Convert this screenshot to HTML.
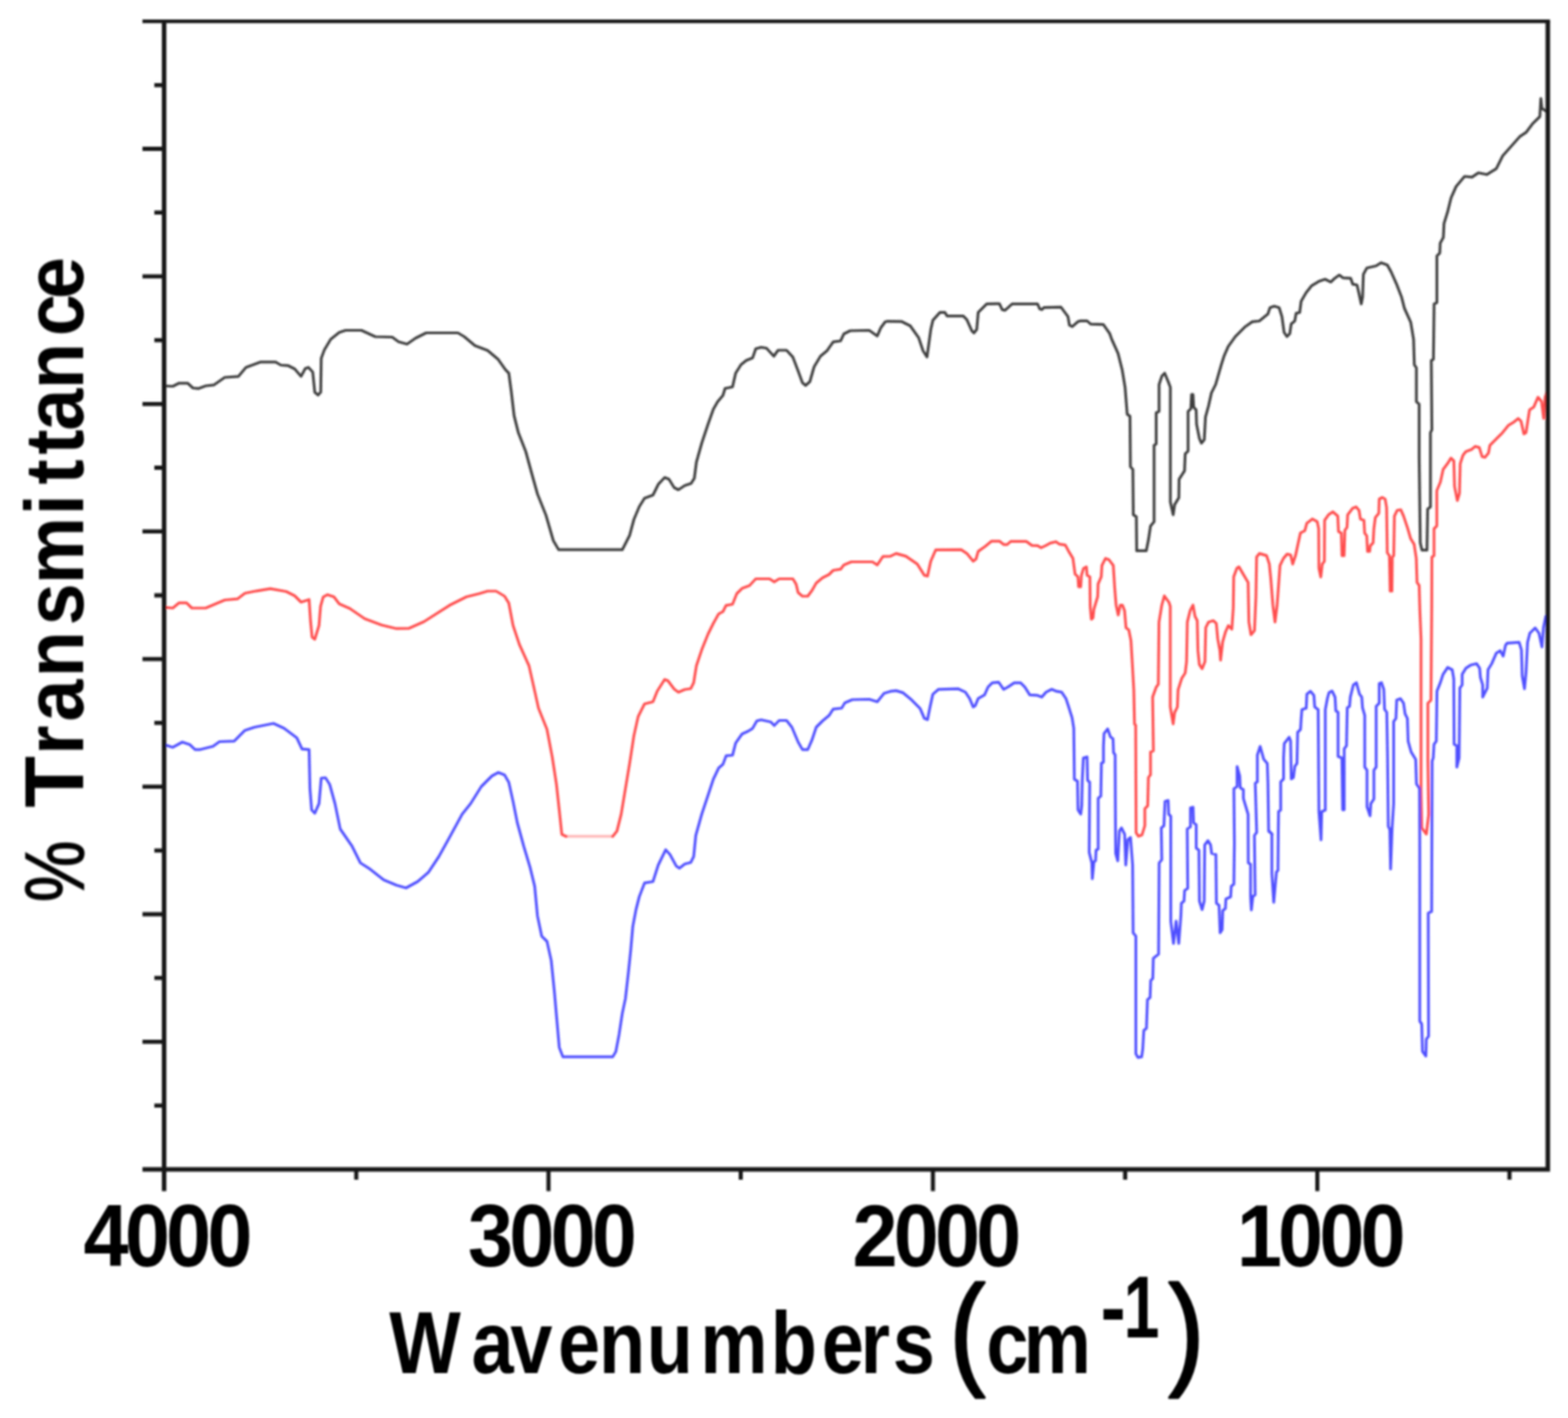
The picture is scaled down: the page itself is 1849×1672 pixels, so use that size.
<!DOCTYPE html>
<html lang="en"><head><meta charset="utf-8"><title>FTIR spectra</title>
<style>html,body{margin:0;padding:0;background:#fff}body{width:1849px;height:1672px;overflow:hidden}svg{display:block}</style></head>
<body>
<svg width="1849" height="1672" viewBox="0 0 1849 1672">
<defs><filter id="soft" x="-2%" y="-2%" width="104%" height="104%"><feGaussianBlur stdDeviation="1.0"/></filter></defs>
<rect width="100%" height="100%" fill="#fff"/>
<g filter="url(#soft)">
<g fill="none" stroke-linejoin="round" stroke-linecap="round" stroke-width="3.2">
<path stroke="#3c3c3c" d="M193.8 455L203.8 455.5L211.2 451.8L221.2 451.8L227.5 457.5L233.8 458.2L242.5 455L252.5 453.8L265 445L281.2 443.8L290 433.2L307.5 426.8L325 426.8L331.2 430.5L340 431.2L347.5 435L355 443.8L360 434.5L363.8 433.2L368.8 438.8L371.2 462.5L375 465.8L378.2 462.5L378.8 422.5L382.5 412.5L390 400L400 392L407.5 389.5L426.2 389.5L442.5 397L462.5 397.5L470 403L480 405.8L490 398.8L502.5 392.5L540 392.5L547.5 397L560 407.5L575 413.2L587.5 423.8L596.2 436.2L600 440L603 462.5L606.2 490L611.2 510L620 532.5L627.5 560L633.8 582.5L643.8 607.5L652.5 637.5L658.8 648.2L733.8 648.2L742.5 631.2L747.5 612.5L753.8 597.5L760 587.5L770 583.8L776.2 571.2L783.8 563L788.8 565L795 575L800 577.5L807.5 572.5L815 570L818.8 563.8L821.2 545L827.5 522.5L835 500L841.2 482.5L846.2 473.8L852.5 466.2L855 458L863.8 456.2L867.5 440L873.8 430L880 425L887.5 422L891.2 411.2L897.5 409.5L903.8 410.5L912.5 420L917.5 413L927.5 413L935 421.2L941.2 437.5L946.2 451.2L950 454.5L955 450L960 432.5L967.5 420L975 413.8L982.5 403.2L991.2 402L995 393.8L1002.5 390L1025 389.5L1034.5 396.2L1038.8 386.2L1043.8 379.5L1046.7 378.8L1063.4 379.2L1073.4 384.3L1083.4 398.4L1088.4 413.5L1093.1 421L1095.1 406.8L1097.6 388.4L1100.1 377.6L1108.4 368.4L1114.2 368.4L1116.8 372.6L1135.9 372.6L1140.1 376.8L1146 390.1L1148.5 392.6L1151.8 388.4L1153.5 368.4L1163.5 358.4L1178.5 358.1L1181.8 365.1L1185.2 365.9L1193.5 358.4L1223.5 358.4L1226 364.2L1228.5 365.1L1231 362.6L1251.1 362.1L1259.4 373.4L1261.1 383.4L1264.4 385.1L1271.1 379.2L1273.6 378.4L1281.9 378.4L1286.1 382.1L1301.1 382.6L1308.6 393.4L1310.9 400L1318.4 416.7L1323.4 436.7L1326.7 456.7L1329.2 488.4L1332.5 490.9L1333 550.2L1335.9 553.5L1336.4 606.9L1340 609.4L1340.4 649.4L1351.7 649.4L1354.2 636.9L1356.7 620.2L1360.9 615.2L1360.9 525.1L1363.4 523.5L1363.4 486.8L1366.8 485.1L1366.8 453.4L1370.1 443.4L1373.4 440L1377.6 450.1L1380.1 456.7L1380.1 591.9L1383.4 606.9L1385.1 595.2L1390.1 586.9L1390.4 565.2L1396.8 555.2L1397.6 535.1L1401 531.8L1401 485.1L1404.3 481.8L1405.1 465.1L1406.8 465.1L1407.6 480.1L1410.5 483.4L1411 500.1L1414.3 516.8L1416.8 522.6L1420.1 518.5L1421.5 491.8L1425.2 478.4L1428.5 463.4L1433.5 453.4L1440.2 430L1443.3 420.2L1448.3 408.6L1456.7 396.9L1468.4 385.2L1476.7 379.4L1485 378.5L1495.1 370.2L1497.6 362.7L1502.6 361L1508.4 362.7L1511.7 373.5L1514.2 391.9L1517.6 396.9L1520.9 393.5L1522.6 381.9L1526.8 378.5L1528.4 369.4L1532.6 368.5L1534.3 355.2L1540.1 345.2L1546.8 336.8L1555.1 331.8L1562.6 329.3L1569.3 332.6L1573.5 328.5L1579.3 324.3L1583.5 327.6L1592.7 328.1L1595.2 335.1L1600.2 336L1602.7 346.8L1605.2 358.5L1606.8 350.2L1607.7 323.5L1611.8 316L1622.7 313.5L1628.5 309.8L1636 312.6L1640.2 320.1L1646.9 335.1L1652.7 350.2L1656.1 363.5L1663.6 380.2L1666.9 400.2L1667.8 430.2L1670.2 433.6L1670.2 473.6L1673.5 476.7L1673.5 540.1L1674.8 640.2L1676.8 648.6L1682.7 648.6L1683.5 600.2L1686.8 597.7L1686.8 510.1L1688.5 506.7L1687.8 425.2L1690.3 423.6L1691.1 358.5L1694.4 356.8L1694.4 301.8L1697.8 298.4L1698.3 286.8L1702 280.1L1702.8 263.4L1707 250.1L1711.1 233.4L1717 220L1727 208L1735.8 208.8L1743.2 203.8L1753.2 205.8L1764.5 198.8L1772 183.8L1782 172.5L1792 161.2L1799.5 156.2L1807 146.2L1815.8 137.5L1817 116.2L1818.2 127.5L1823.2 131.2"/>
<path stroke="#ff4e4e" d="M193.8 716.2L203.8 717L211.2 710.8L220 710.8L226.2 717L242.5 717L265 707.5L280 706.2L288.8 699.5L302.5 696.8L318.8 694.2L337.5 697.5L347.5 702.5L355 710L364.5 707L366.2 732.5L368 751.2L371.2 753.8L376.2 737.5L378 715L381.2 703.8L386.2 701.2L393.8 703.8L400 712L412.5 717.5L430 729.5L450 737L467.5 741.2L482.5 740.8L500 733L530 713.8L550 703.8L565 700L575 697L585 697L595 703L600 711.2L605 737.5L612.5 760L623.8 785L630 812.5L635 835L645 860L651.2 892.5L656.2 925L660 960L662.5 983.8L667.5 986.2"/>
<path stroke="#ff4e4e" stroke-opacity="0.4" d="M667.5 986.2L722.5 986.2"/>
<path stroke="#ff4e4e" d="M722.5 986.2L727.5 980L732.5 960L737.5 930L742.5 900L747.5 867.5L752.5 845L760 830L770 827.5L775 815L783.8 801.2L787.5 802.5L795 812.5L800 816.2L807.5 813L814.5 812L818 805L821.2 785L827.5 766.2L835 747.5L841.2 735L847.5 723.8L852.5 721.2L856.2 713.8L863.8 712.5L868.8 700L875 693.8L883.8 690.5L891.2 682.5L907.5 682.5L913 686.2L918.8 682.5L935 682.5L938.8 688.8L941.2 698.8L946.2 703L952.5 703L957.5 696.2L962.5 687.5L970 681.2L977.5 677.5L982.5 672.5L991.2 671.2L995 666.2L1003.8 662.5L1028.8 662.5L1034.5 666.2L1041.2 656.2L1050 655.9L1056.7 652.6L1068.3 655.9L1081.7 665.1L1090 678.4L1093.7 679.3L1097.5 661.8L1103.4 648.4L1133.4 648.1L1140.1 652.6L1147.6 661.8L1150.9 659.2L1153.5 650.1L1161.8 644.2L1169.3 638.1L1178.5 638.1L1183.5 642.1L1187.7 642.1L1191.8 638.4L1210.2 638.4L1216.8 643.1L1223.5 643.4L1227.7 645.9L1233.5 643.1L1238.5 640.4L1245.2 638.7L1249.4 641.7L1256.1 642.6L1260.2 650.1L1265.2 658.4L1267.7 676.8L1271.1 680.1L1271.9 691.8L1274.4 691.8L1275.2 678.4L1277.8 670.1L1281.1 668.4L1281.9 678.4L1285.2 680.1L1285.6 715.1L1286.9 730.2L1288.9 728.5L1289.9 718.5L1294.4 703.5L1294.9 688.5L1298.6 680.1L1299.4 666.8L1303.6 658.4L1307.8 660.1L1312.8 666.8L1314.5 693.5L1316.1 713.5L1318.6 725.2L1321.1 713.5L1323.6 713.5L1326.1 720.1L1327.8 740.2L1331.1 742.7L1333.6 755.2L1335.3 783.5L1337 813.6L1337.8 853.6L1339.2 855.1L1339.7 981.9L1342.5 986.1L1346.7 984.4L1350 973.6L1350 953.6L1353.4 950.2L1354.2 916.9L1356.7 913.5L1356.7 886.8L1360.1 885.2L1359.2 821.9L1363.4 810.2L1365.9 806.9L1366.7 733.5L1370 713.5L1373 702.6L1378.4 710.1L1380 715.1L1380 833.6L1383.4 853.6L1385.1 840.3L1388.4 833.6L1389.2 813.6L1393.4 800.2L1397.6 793.5L1399.2 780.2L1400.1 733.5L1403.4 720.1L1406.8 713.5L1409.2 726.8L1411.8 731.8L1412.6 766.9L1414.3 783.5L1417.6 788.5L1420.9 780.2L1421.8 740.1L1425.1 733.5L1430.9 731.8L1434.3 735.1L1436 753.5L1438.5 766.9L1439.3 778.5L1441.8 756.8L1445.1 745.2L1448.5 737.6L1452.6 741.8L1454.3 716.8L1454.8 680.1L1458.5 670.1L1461 668.4L1466.8 678.4L1471.8 686.8L1472.7 733.5L1475.2 748.5L1479.3 743.5L1481 703.5L1481.8 656.7L1485.2 652.6L1493.5 655.1L1496.8 665.1L1498.5 681.8L1501 713.5L1503.5 733.5L1506 713.5L1507.7 690.1L1509.4 666.7L1513.5 658.4L1517.7 653.4L1521.9 654.2L1524.4 665.1L1527.7 655.1L1530.2 643.4L1533.5 628.4L1538.6 625.9L1541.1 616.7L1543.3 615.2L1547.5 611.9L1553.3 615.2L1555 623.5L1555.3 670.2L1557.5 680.3L1559.2 665.2L1561.7 661.9L1562 613.5L1566.7 606.9L1571.7 603.5L1577.5 608.5L1578.4 626.9L1581.7 628.5L1582.5 655.2L1585 655.2L1585.9 625.2L1588.4 621.9L1589.2 606.9L1595.1 599.3L1599.2 597.7L1602.6 601.8L1604.2 611.9L1608.4 613.5L1609.2 628.5L1611.7 631.9L1612.6 650.2L1615.1 650.2L1615.9 643.5L1619.2 640.2L1620.1 623.5L1621.8 610.2L1625.9 605.2L1626.4 588.5L1630.1 586.5L1633.4 588.5L1635.1 598.5L1635.9 651.9L1638.4 655.2L1639.3 697L1641.4 697L1641.8 656.9L1643.5 655.2L1644.3 608.5L1647.6 601.8L1651.8 601L1655.1 608.5L1660.1 623.5L1663.5 635.2L1667.6 641.9L1670.1 658.6L1671 686.9L1673.5 690.3L1674.3 719L1675.7 753.8L1675.7 933.2L1676.6 976.3L1682 983.5L1684.7 960.1L1683.8 897.3L1683.8 829.2L1687.4 825.6L1688.3 717.9L1688.5 656.9L1691 655.2L1691 623.5L1694.3 620.2L1694.3 578.5L1698.5 568.5L1701.8 553.5L1706.8 546.8L1711 540.1L1714.4 543.5L1715.2 573.5L1718.5 590.2L1721 581.8L1721.9 546.8L1725.2 536.8L1728.5 532.6L1735.2 530.1L1739.4 526.4L1744.4 527.6L1747.7 538.4L1751.1 539.3L1755.2 534.3L1756.9 525.1L1763.6 518.4L1771.9 510.1L1778.6 501.7L1785.3 497.6L1790.3 493.4L1793.6 496.7L1797 511.7L1799.5 510.1L1803.6 483.4L1808.6 480L1813.6 468.4L1817.8 473.4L1820.3 493.4L1822 468.4L1824.5 461.7"/>
<path stroke="#5050ff" d="M193.8 878L203.8 881.2L215 875L223.8 878L230 883.8L236.2 883.8L251.2 880L258.8 874.5L276.2 873.8L288.8 861.2L300 857.5L315 854.5L322.5 853L335 858.8L350 870L356.2 883.2L364.5 883.8L365.5 930L367.5 955L371.2 958.8L376.2 947.5L378.8 917.5L383.8 917L388.8 925L395 947.5L401.2 977.5L415 997.5L425 1017.5L435 1023.8L452.5 1037.5L467.5 1043.8L478.8 1047L492.5 1039.5L505 1028.8L517.5 1010L530 987.5L545 960L555 947.5L567.5 927.5L580 915L587.5 910.8L595 913.8L600 922.5L605 945L610 970L617.5 997.5L625 1022.5L630.5 1045L633.8 1080L638.8 1103.8L645 1110L650 1132.5L653.8 1170L656.2 1197.5L659.5 1235L663.8 1246.2L722.5 1246.2L726.2 1240L730 1220L733.8 1195L737.5 1177.5L741.2 1145L743.8 1120L746.2 1092.5L750 1072.5L753.8 1057.5L760 1041.2L770 1039.5L776.2 1020L785 1002L790 1007.5L797.5 1021.2L801.2 1023.8L807.5 1018.8L814.5 1017L818 1010L820.5 985L827.5 960L835 937.5L841.2 918.8L847.5 905.5L852.5 901.2L856.2 891.2L863.8 890.5L867.5 876.2L875 865.5L882.5 862L887.5 858.8L892.5 850L897.5 848.8L908.8 851.2L913 855.5L918.8 849.5L927.5 849.5L933.8 857.5L941.2 875L946.2 883.8L952.5 883.8L957.5 872.5L962.5 857.5L970 850L977.5 843.8L982.5 836.2L992.5 835L996.2 828.8L1005 825L1025 824.5L1034.5 827.5L1042.5 817.5L1050 815.2L1056.7 814.4L1065 816.9L1075 825.3L1085 835.3L1090 847L1093.7 848.6L1096.7 833.6L1100 818.6L1106.7 812.8L1130.1 812.2L1138.4 816.1L1143.4 823.6L1147.6 833.6L1150.1 831.9L1153.5 823.6L1161 819.4L1165.1 810.2L1170.1 805.2L1177.6 804.4L1183.5 812.8L1188.5 810.2L1196 805.2L1203.5 805.2L1208.5 810.2L1214.3 819.4L1223.5 819.9L1228.5 821.9L1233.5 816.1L1240.2 812.8L1246 815.2L1251.9 816.1L1256.9 823.6L1260.2 833.6L1264.4 847L1264.4 847.5L1266.2 858.8L1266.9 918.8L1270.6 921.2L1271.2 955L1274.4 960L1275.6 950L1276.2 920L1277.5 893.8L1281.9 892.5L1282.5 920L1285 922.5L1284.4 1005L1287.5 1017.5L1288.1 1036.2L1290 1016.2L1291.9 1015L1292.5 1002.5L1295 1001.2L1295 941.2L1298.1 938.8L1298.8 900L1301.2 898.8L1301.2 880L1301.9 865L1306.2 859.4L1309.4 868.8L1312.5 871.2L1313.1 887.5L1315 890L1315.2 940L1315.6 1006.2L1318.1 1015L1320 980L1322.5 976.2L1326.2 983.8L1327.5 1020L1330 990L1333.1 987.5L1335.6 1020L1336.2 1100L1339.4 1103.8L1339.4 1242.5L1341.9 1246.9L1346.2 1246.2L1347.5 1237.5L1348.8 1215L1351.9 1212.5L1353.1 1178.8L1356.2 1176.2L1356.9 1156.2L1359.4 1153.8L1360 1130L1363.1 1127.5L1366.2 1125L1366.9 1017.5L1370 1013.8L1369.4 976.2L1372.5 973.8L1373.8 945L1377.5 943.8L1378.1 960L1380.6 962.5L1380.6 1086.2L1383.8 1112.5L1386.9 1086.2L1390 1112.5L1392.5 1080L1393.1 1065L1396.2 1062.5L1396.9 1050L1400.6 1047.5L1400 977.5L1403.8 975L1403.8 952.5L1406.9 951.9L1407.5 970L1410.6 972.5L1410.6 1000L1413.8 1002.5L1414.4 1062.5L1417.5 1072.5L1420 1062.5L1420.6 996.2L1424.4 991.2L1427.5 996.2L1428.8 1006.2L1433.8 1007.5L1434.4 1065L1437.5 1067.5L1438.8 1100L1441.2 1096.2L1441.9 1073.8L1445 1071.2L1445.6 1060L1451.2 1057.5L1451.9 1045L1455 1042.5L1455.6 993.8L1455 930L1458.8 927.5L1458.8 903.8L1461.9 915L1462.5 928.8L1466.2 931.2L1466.2 941.2L1466.8 943.5L1471.8 960.2L1472 1017.4L1474.7 1019.2L1474.7 1056.9L1475.6 1073L1477.4 1056.9L1480.1 1055.1L1479.2 985.1L1481.9 981.5L1480.2 923.5L1482.7 921.9L1482.7 890.2L1486 880.1L1490.2 895.2L1494.4 900.2L1495.2 923.5L1496 980.3L1500.2 983.6L1496.3 979.7L1499.8 983.3L1499.8 1030L1502 1064L1505.2 1028.2L1507 1026.4L1507.4 979.7L1507.7 956.9L1510.2 955.2L1510.2 921.9L1513.6 918.5L1513.6 893.5L1514.4 876.8L1520.2 869.3L1521.9 873.5L1522.7 918.5L1525.2 916.9L1526.9 903.5L1529.4 900.2L1530.2 863.5L1533.6 860.1L1534.4 846.8L1535.2 836.8L1540.3 835.1L1541.1 818.4L1545.3 815.1L1549.4 820.1L1550.3 833.4L1554.4 836.8L1555.3 956.9L1557.8 990.3L1558.6 956.9L1562.8 955.2L1562.8 836.8L1565.3 823.4L1567.2 816.6L1570.8 814.8L1574.3 822L1575.2 838.1L1577.9 839.9L1577.9 892L1582.4 893.8L1583.3 954.8L1585.1 954.8L1585.1 883L1587.8 879.4L1588.7 834.5L1591.4 832.8L1592.3 822L1595.9 807.6L1599.5 805L1603.1 818.4L1605.8 822L1606.7 834.5L1609.3 843.5L1609.3 904.5L1612 908.1L1612 951.2L1615.6 961.9L1616.5 947.6L1620.1 942.2L1620.1 908.1L1622.8 904.5L1622.8 832.8L1626.4 829.2L1626.4 805.9L1629.1 805L1631.8 813L1632.7 836.4L1635.3 839.9L1636.2 890.2L1637.1 974.5L1638.9 977.9L1639.8 1024.6L1641.6 976.1L1643.4 947.6L1643.4 850.7L1646.1 847.1L1647 825.6L1651.5 823.8L1655.1 829.2L1656.9 841.7L1659.6 847.1L1660.5 874L1664 886.6L1669.4 895.5L1670.3 924.3L1673.9 929.6L1674.2 999.5L1674.2 1204L1676.5 1207.5L1677.4 1239.8L1681.4 1245.2L1681.9 1225.5L1684.6 1221.9L1684.2 1076.6L1688.2 1074.8L1688.8 897.3L1690.1 893.8L1691 877.6L1693.7 874L1694.5 814.8L1698.1 805.9L1701.7 795.1L1707.1 787L1712.5 789.7L1714.3 800.5L1714.7 877.6L1717.9 879.4L1717.9 904.5L1720.6 893.8L1721.5 811.2L1724.2 807.6L1724.2 795.1L1728.6 787.9L1734 784.3L1741.2 782.5L1744.8 787.9L1745.7 798.7L1748.4 807.6L1748.4 822L1753.8 811.2L1754.7 789.7L1759.1 782.5L1764.5 770L1769 767.3L1772.6 773.6L1775.3 761L1777.1 758.3L1791.4 757.4L1794.1 766.4L1795 796.9L1797.7 812.1L1799.5 793.3L1801.3 757.4L1804 746.6L1810.3 740.4L1814.8 746.6L1818.3 762.8L1820.1 739.5L1822.8 726.9"/>
</g>
<g fill="none" stroke="#161616">
<path stroke-width="4.3" d="M168 25.1H1827.8"/>
<path stroke-width="5.3" d="M1825.2 25.1V1381.4M1825.2 1378.8H168M193.5 25.1V1404.5"/>
<path stroke-width="4.8" d="M168 175.5H193.5M168 325.9H193.5M168 476.3H193.5M168 626.7H193.5M168 777.2H193.5M168 927.6H193.5M168 1078H193.5M168 1228.4H193.5M182 100.3H193.5M182 250.7H193.5M182 401.1H193.5M182 551.5H193.5M182 702H193.5M182 852.4H193.5M182 1002.8H193.5M182 1153.2H193.5M182 1303.6H193.5M646.8 1378.8V1404.5M1100.1 1378.8V1404.5M1553.4 1378.8V1404.5M420.1 1378.8V1391M873.5 1378.8V1391M1326.8 1378.8V1391M1780 1378.8V1391"/>
</g>
<g font-family="'Liberation Sans', Arial, sans-serif" font-weight="bold" fill="#000">
<text transform="translate(0 1492.6) scale(0.93 1)" font-size="103" x="106 158.3 210.5 262.8">4000</text>
<text transform="translate(0 1492.6) scale(0.93 1)" font-size="103" x="593.4 645.7 698 750.2">3000</text>
<text transform="translate(0 1492.6) scale(0.93 1)" font-size="103" x="1080.9 1133.1 1185.4 1237.6">2000</text>
<text transform="translate(0 1492.6) scale(0.93 1)" font-size="103" x="1568.3 1620.5 1672.8 1725.1">1000</text>
<text transform="translate(0 1619) scale(0.86 1)" font-size="104" x="533.6 646.4 699.6 765 821.3 886.5 960.1 1056.8 1126.9 1179.9 1224.2 1281.4">Wavenumbers <tspan font-size="147" font-weight="normal" stroke="#000" stroke-width="3.0" stroke-linejoin="round" x="1302" dy="-1.5">(</tspan><tspan x="1352.4 1403.4" dy="1.5">cm</tspan><tspan x="1508.9" dy="-42">-</tspan><tspan x="1540.8" textLength="49.2" lengthAdjust="spacingAndGlyphs">1</tspan><tspan font-size="147" font-weight="normal" stroke="#000" stroke-width="3.0" stroke-linejoin="round" x="1602.4" dy="40.5">)</tspan></text>
<text transform="translate(98 0) rotate(-90) scale(0.9 1)" font-size="99"><tspan font-weight="normal" stroke="#000" stroke-width="1.6" x="-1181.9" textLength="80.5" lengthAdjust="spacingAndGlyphs">%</tspan><tspan x="-1080"> </tspan><tspan x="-1058.3" textLength="67.7" lengthAdjust="spacingAndGlyphs">T</tspan><tspan x="-988.9 -945.5 -887.3 -819.2 -765.4 -675.2 -634.7 -595.6 -564.4 -509.8 -440.3 -391.9">ransmittance</tspan></text>
</g>
</g>
</svg>
</body></html>
